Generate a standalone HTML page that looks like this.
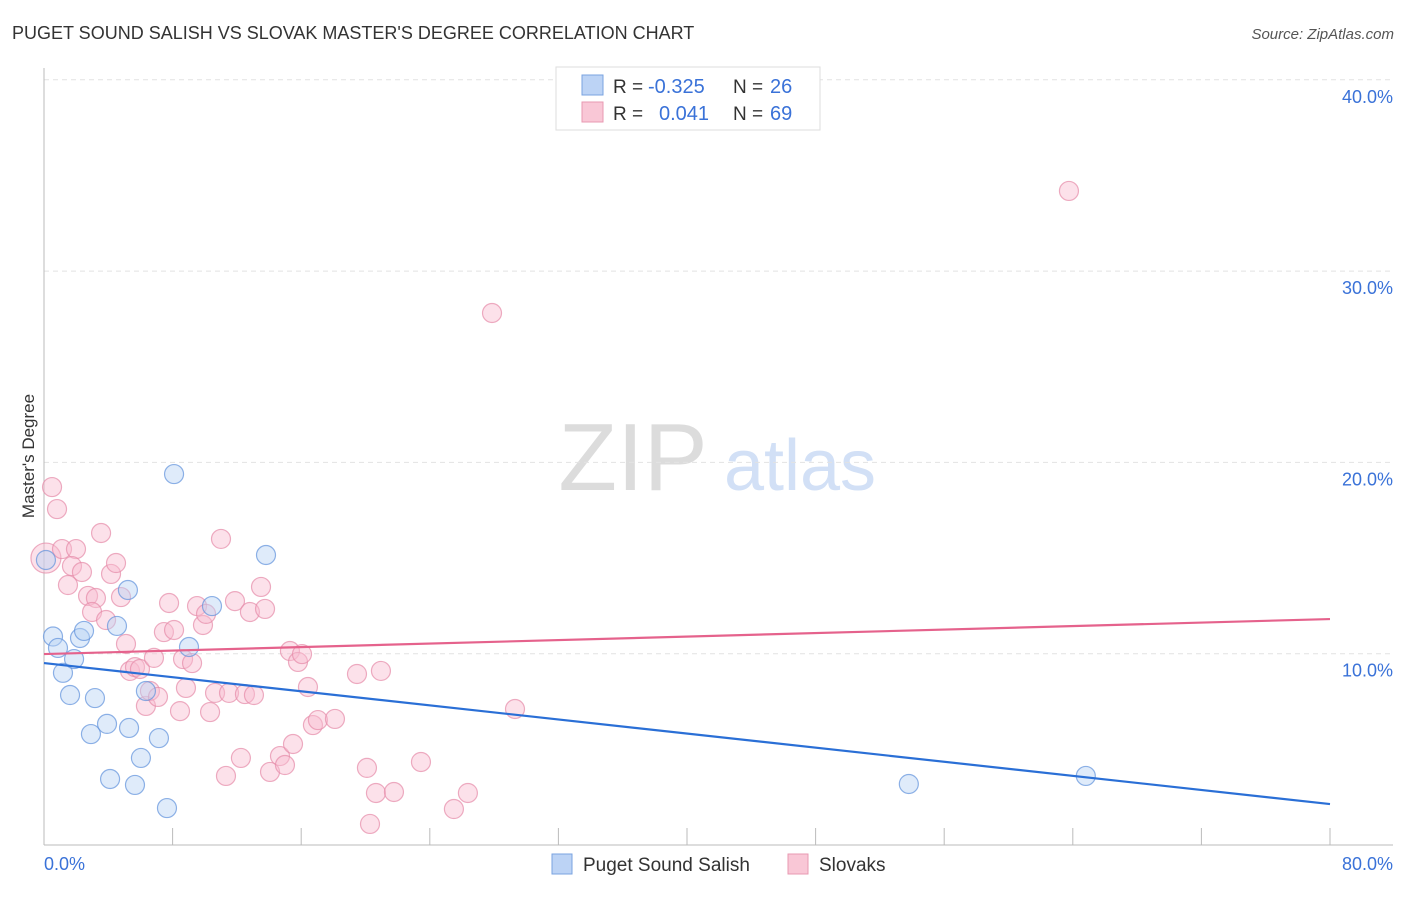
<!DOCTYPE html>
<html><head><meta charset="utf-8"><style>
body{margin:0;background:#fff;font-family:"Liberation Sans",sans-serif;}
svg text{font-family:"Liberation Sans",sans-serif;}
</style></head><body>
<svg id="chart" width="1406" height="892" xmlns="http://www.w3.org/2000/svg">
<text x="12" y="39" font-size="18" fill="#333">PUGET SOUND SALISH VS SLOVAK MASTER'S DEGREE CORRELATION CHART</text>
<text x="1394" y="39" font-size="15" fill="#555" font-style="italic" text-anchor="end">Source: ZipAtlas.com</text>
<g>
<text x="633" y="490" font-size="96" fill="#dcdcdc" font-family="Liberation Serif" text-anchor="middle">ZIP</text>
<text x="800" y="490" font-size="72" fill="#d2e0f6" text-anchor="middle">atlas</text>
</g>
<g id="grid"></g><g id="axes"></g><g id="pts"></g><g id="lines"></g>
<text transform="translate(34,456) rotate(-90)" font-size="17" fill="#333" text-anchor="middle">Master's Degree</text>
<text x="44" y="870" font-size="18" fill="#3a72d8">0.0%</text>
<text x="1393" y="870" font-size="18" fill="#3a72d8" text-anchor="end">80.0%</text>
<g>
<rect x="556" y="67" width="264" height="63" fill="#fff" stroke="#ddd"/>
<rect x="582" y="75" width="21" height="20" fill="#bcd3f5" stroke="#7aa3e0"/>
<rect x="582" y="102" width="21" height="20" fill="#f9c7d6" stroke="#e899b2"/>
<text x="613" y="93" font-size="19" fill="#333">R =</text>
<text x="648" y="93" font-size="20" fill="#3a72d8">-0.325</text>
<text x="733" y="93" font-size="19" fill="#333">N =</text>
<text x="770" y="93" font-size="20" fill="#3a72d8">26</text>
<text x="613" y="120" font-size="19" fill="#333">R =</text>
<text x="659" y="120" font-size="20" fill="#3a72d8">0.041</text>
<text x="733" y="120" font-size="19" fill="#333">N =</text>
<text x="770" y="120" font-size="20" fill="#3a72d8">69</text>
</g>
<g>
<rect x="552" y="854" width="20" height="20" fill="#bcd3f5" stroke="#7aa3e0"/>
<text x="583" y="871" font-size="19" fill="#333">Puget Sound Salish</text>
<rect x="788" y="854" width="20" height="20" fill="#f9c7d6" stroke="#e899b2"/>
<text x="819" y="871" font-size="19" fill="#333">Slovaks</text>
</g>
</svg>
<script>
const yTicks=[10,20,30,40];
const yTickLabels=["10.0%","20.0%","30.0%","40.0%"];
const blueX=[0.12,0.56,0.87,1.18,1.87,1.62,2.24,2.49,2.92,3.17,3.92,4.11,4.54,5.22,5.29,5.66,6.03,6.34,7.15,7.65,8.09,9.02,10.45,13.81,53.8,64.81];
const blueY=[14.9,10.9,10.3,9.0,9.72,7.84,10.82,11.19,5.80,7.68,6.33,3.45,11.45,13.33,6.12,3.14,4.55,8.05,5.59,1.93,19.39,10.35,12.49,15.16,3.19,3.61];
const pinkX=[0.50,0.81,0.12,1.12,1.99,1.49,1.74,2.36,2.74,3.23,2.99,3.55,3.86,4.17,4.48,4.79,5.10,5.35,5.66,5.97,6.34,6.59,6.84,7.09,7.46,7.78,8.09,8.46,8.65,8.83,9.21,9.52,9.89,10.08,10.33,10.64,11.01,11.32,11.51,11.88,12.25,12.50,12.81,13.06,13.50,13.75,14.06,14.68,14.99,15.30,15.49,15.80,16.05,16.42,16.73,17.04,18.10,19.47,20.09,20.28,20.65,20.96,21.77,23.45,25.50,26.37,27.87,29.30,63.76];
const pinkY=[18.71,17.56,15.0,15.47,15.47,13.59,14.58,14.27,13.02,12.91,12.18,16.31,11.76,14.17,14.74,12.96,10.51,9.10,9.30,9.20,7.27,8.05,9.78,7.74,11.13,12.65,11.24,7.00,9.72,8.21,9.51,12.49,11.50,12.08,6.95,7.95,16.00,3.61,7.95,12.75,4.55,7.89,12.18,7.84,13.49,12.34,3.82,4.65,4.18,10.14,5.28,9.57,9.98,8.26,6.27,6.53,6.59,8.94,4.03,1.10,2.72,9.10,2.77,4.34,1.88,2.72,27.81,7.11,34.19];
const blueTrend=[9.51,2.14];
const pinkTrend=[9.98,11.81];
const NS="http://www.w3.org/2000/svg";
const X=v=>44+v/80*1286, Y=v=>845-v*19.13;
function mk(tag,attrs,parent){const e=document.createElementNS(NS,tag);for(const k in attrs)e.setAttribute(k,attrs[k]);document.getElementById(parent).appendChild(e);return e;}
yTicks.forEach((t,i)=>{
 const l=mk('line',{x1:44,x2:1393,y1:Y(t),y2:Y(t),stroke:'#e2e2e2','stroke-dasharray':'5,4'},'grid');
 
 
 const tx=mk('text',{x:1393,y:Y(t)+23,'font-size':18,fill:'#3a72d8','text-anchor':'end'},'grid');
 tx.textContent=yTickLabels[i];
 
 
});
const ax=mk('line',{x1:44,x2:1393,y1:845,y2:845,stroke:'#bbb'},'axes');


const ay=mk('line',{x1:44,x2:44,y1:68,y2:845,stroke:'#bbb'},'axes');


for(let i=0;i<=10;i++){const t=mk('line',{x1:X(i*8),x2:X(i*8),y1:828,y2:845,stroke:'#bbb'},'axes');
 
 }
function pts(xs,ys,fill,stroke,name,big){xs.forEach((x,i)=>{const c=mk('circle',{cx:X(x),cy:Y(ys[i]),r:(big&&x<0.2?15:9.5),fill:fill,'fill-opacity':0.45,stroke:stroke,'stroke-opacity':0.7,'stroke-width':1.2},'pts');
 
 });}
pts(pinkX,pinkY,'#f8bcd0','#e68aa8','slovaks-point',true);
pts(blueX,blueY,'#b9d2f5','#5f91dc','puget-sound-salish-point',false);
const bl=mk('line',{x1:X(0),y1:Y(blueTrend[0]),x2:X(80),y2:Y(blueTrend[1]),stroke:'#2a6fd6','stroke-width':2.2},'lines');


const pl=mk('line',{x1:X(0),y1:Y(pinkTrend[0]),x2:X(80),y2:Y(pinkTrend[1]),stroke:'#e5628c','stroke-width':2.2},'lines');


</script>
</body></html>
